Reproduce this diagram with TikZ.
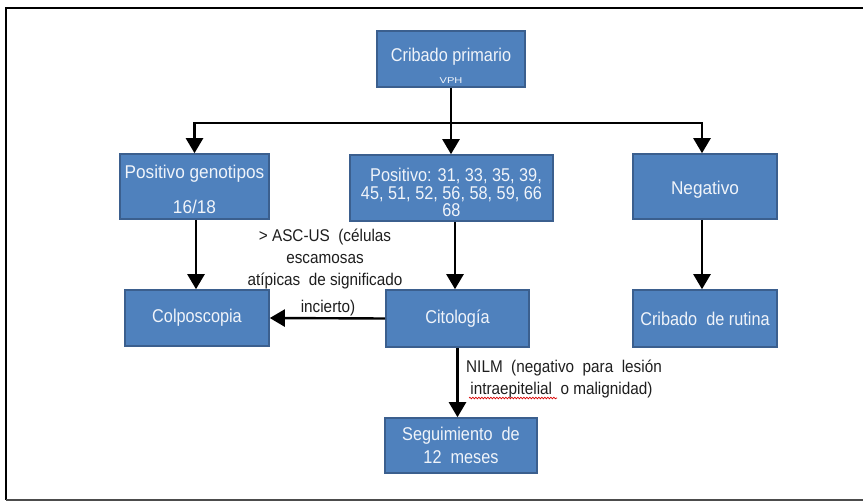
\documentclass[tikz,border=0pt]{standalone}
\usepackage{fontspec}
\setmainfont{Liberation Sans}
\newfontfamily\boxfont{Liberation Sans}[FakeStretch=0.88]
\newfontfamily\widebox{Liberation Sans}[FakeStretch=0.93]
\newfontfamily\tinywide{Liberation Sans}[FakeStretch=1.3]
\newfontfamily\lblfont{Liberation Sans}[FakeStretch=0.9]
\usetikzlibrary{arrows.meta,decorations.pathmorphing}
\definecolor{boxfill}{HTML}{4F81BD}
\definecolor{boxedge}{HTML}{3B5F8E}
\definecolor{boxtext}{HTML}{F0F4FA}
\definecolor{lbltext}{HTML}{1E1E1E}
\begin{document}
\begin{tikzpicture}[x=1pt,y=-1pt,
  stepbox/.style={draw=boxedge, line width=1.6pt, fill=boxfill, text=boxtext,
    font=\boxfont\fontsize{18.5}{20}\selectfont, align=center, inner sep=0pt},
  lbl/.style={text=lbltext, font=\lblfont\fontsize{17}{22}\selectfont, inner sep=0pt},
  flow/.style={line width=2.4pt, -{Triangle[width=17pt,length=15pt]}},
  link/.style={line width=2.4pt}
]
\useasboundingbox (0,0) rectangle (863,503);

% outer frame
\draw[line width=2.6pt, black] (880,8) -- (6,8) -- (6,500);
\draw[line width=2.6pt, black!70] (6,500) -- (880,500);

% boxes
\node[stepbox, minimum width=148pt, minimum height=56pt] (prim) at (451,59)
  {\rule{0pt}{27pt}Cribado primario\\[1.5pt]{\tinywide\fontsize{8.5}{9}\selectfont VPH}};
\node[stepbox, minimum width=149pt, minimum height=65pt, font=\widebox\fontsize{18.5}{20}\selectfont] (gen) at (194.5,186.5)
  {\rule{0pt}{19pt}Positivo genotipos\\[14.5pt]16/18};
\node[stepbox, minimum width=203pt, minimum height=66pt, font=\boxfont\fontsize{18.5}{17.5}\selectfont] (pos) at (451.5,188)
  {\rule{0pt}{23pt}\ \ Positivo: 31, 33, 35, 39,\\45, 51, 52, 56, 58, 59, 66\\68};
\node[stepbox, minimum width=144pt, minimum height=65pt, font=\widebox\fontsize{18.5}{20}\selectfont] (neg) at (705,186.5) {\rule{0pt}{19pt}Negativo};
\node[stepbox, minimum width=144pt, minimum height=56pt] (colp) at (197,318) {Colposcopia};
\node[stepbox, minimum width=143pt, minimum height=57pt] (cito) at (457.5,318.5) {Citología};
\node[stepbox, minimum width=144pt, minimum height=57pt] (rut) at (705,318.5) {Cribado\ \ de rutina};
\node[stepbox, minimum width=152pt, minimum height=55pt] (seg) at (461,445.5)
  {Seguimiento\ \ de\\[3pt]12\ \ meses};

% branching from the primary screening
\coordinate (hub) at (451,123);
\draw[link] (prim) -- (hub);
\draw[flow] (hub) -| (gen.north);
\draw[flow] (hub) -- (hub |- pos.north);
\draw[flow] (hub) -| ([xshift=-3pt]neg.north);

% second level
\draw[flow] ([xshift=1.5pt]gen.south) -- ([xshift=1.5pt]gen.south |- colp.north);
\draw[flow] ([xshift=-2.5pt]cito.north |- pos.south) -- ([xshift=-2.5pt]cito.north);
\draw[flow] ([xshift=-3pt]neg.south) -- ([xshift=-3pt]rut.north);
\draw[flow] (cito.west) -- (colp.east);
\draw[flow] (cito.south) -- (cito.south |- seg.north);

% condition labels
\node[lbl, align=center] (asc) at (325,259)
  {>\ ASC-US\ \ (células\\escamosas\\atípicas\ \ de significado};
\node[lbl] (asc2) at (328,308) {incierto)};
\node[lbl, anchor=west, align=left] (nilm) at (466,379)
  {NILM\ \ (negativo\ \ para\ \ lesión\\\ intraepitelial\ \ o malignidad)};
\draw[red!85!black, line width=0.7pt, decorate,
  decoration={snake, amplitude=0.8pt, segment length=3pt}] (469,398) -- (557,398);
\end{tikzpicture}
\end{document}
